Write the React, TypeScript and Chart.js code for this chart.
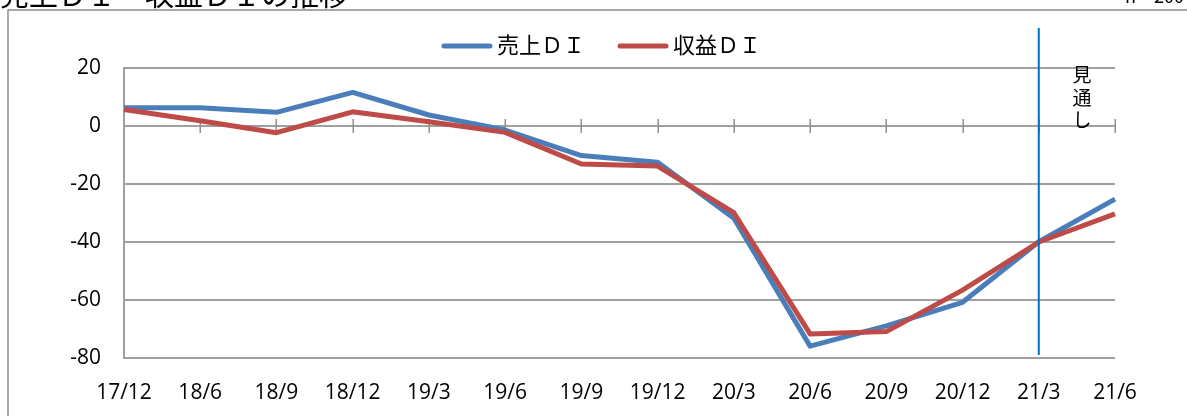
import React, { useEffect, useRef } from 'react';
import { Chart, registerables } from 'chart.js';

Chart.register(...registerables);

// ---- data ----
const categories = ['17/12', '18/6', '18/9', '18/12', '19/3', '19/6', '19/9', '19/12', '20/3', '20/6', '20/9', '20/12', '21/3', '21/6'];
const salesDI = [6.3, 6.3, 4.7, 11.6, 3.8, -1.4, -10.2, -12.5, -31.8, -75.9, -68.9, -60.8, -39.9, -25.2];
const profitDI = [5.7, 1.8, -2.3, 4.9, 1.5, -2.2, -13.1, -13.8, -29.9, -71.7, -70.9, -56.6, -40.0, -30.3];
const seriesNames = ['売上ＤＩ', '収益ＤＩ'];
const seriesColors = ['#4A7EBB', '#BE4B48'];
const yMin = -80;
const yMax = 20;
const yStep = 20;
const forecastIndex = 12; // 21/3
const forecastChars = ['見', '通', 'し'];
const titleText = '売上ＤＩ・収益ＤＩの推移';
const noteText = 'n＝200';

const tickFont = { family: '"Open Sans", "Noto Sans", sans-serif', size: 21 };
const cjk = '"Noto Sans CJK JP", "Noto Sans", sans-serif';
const gridColor = '#a0a0a0';

const decorPlugin = {
  id: 'decor',
  beforeDraw(chart: any) {
    const ctx = chart.ctx;
    ctx.save();
    ctx.fillStyle = '#ffffff';
    ctx.fillRect(0, 0, chart.width, chart.height);
    // outer frame
    ctx.strokeStyle = '#8c8c8c';
    ctx.lineWidth = 1.5;
    ctx.strokeRect(8, 10, chart.width + 100, chart.height + 100);
    // title (cut at the top)
    ctx.fillStyle = '#000';
    ctx.textAlign = 'left';
    ctx.textBaseline = 'alphabetic';
    ctx.font = `29px ${cjk}`;
    ctx.fillText(titleText, 0, 6);
    ctx.font = `18px ${cjk}`;
    ctx.fillText(noteText, 1125, 3);
    ctx.restore();
  },
  beforeDatasetsDraw(chart: any) {
    const ctx = chart.ctx;
    const xs = chart.scales.x;
    const ys = chart.scales.y;
    const y0 = ys.getPixelForValue(0);
    ctx.save();
    ctx.strokeStyle = '#909090';
    ctx.lineWidth = 1.5;
    ctx.beginPath();
    for (let i = 1; i < categories.length; i++) {
      const x = Math.round(xs.getPixelForTick(i)) + 0.25;
      ctx.moveTo(x, y0 - 7);
      ctx.lineTo(x, y0 + 7);
    }
    ctx.stroke();
    ctx.restore();
  },
  afterDatasetsDraw(chart: any) {
    const ctx = chart.ctx;
    const xs = chart.scales.x;
    const ys = chart.scales.y;
    const xf = xs.getPixelForValue(forecastIndex);
    const xn = xs.getPixelForValue(forecastIndex + 1);
    ctx.save();
    ctx.strokeStyle = '#0070C0';
    ctx.lineWidth = 2;
    ctx.beginPath();
    ctx.moveTo(xf, 28);
    ctx.lineTo(xf, ys.bottom - 3);
    ctx.stroke();
    // 見通し vertical text
    ctx.fillStyle = '#000';
    ctx.font = `19px ${cjk}`;
    ctx.textAlign = 'center';
    ctx.textBaseline = 'middle';
    const cx = (xf + xn) / 2 + 5;
    forecastChars.forEach((c, i) => {
      ctx.fillText(c, cx, 75 + i * 22.5);
    });
    ctx.restore();
  },
  afterDraw(chart: any) {
    // legend
    const ctx = chart.ctx;
    ctx.save();
    ctx.font = `22px ${cjk}`;
    ctx.textBaseline = 'middle';
    ctx.textAlign = 'left';
    const lineLen = 50;
    const gapText = 5;
    const gapItem = 33;
    const widths = seriesNames.map((n) => ctx.measureText(n).width);
    const total = widths.reduce((a, w) => a + lineLen + gapText + w, 0) + gapItem * (seriesNames.length - 1);
    let x = chart.width / 2 + 8 - total / 2;
    const y = 46;
    seriesNames.forEach((name, i) => {
      ctx.strokeStyle = seriesColors[i];
      ctx.lineWidth = 5;
      ctx.lineCap = 'round';
      ctx.beginPath();
      ctx.moveTo(x + 2, y);
      ctx.lineTo(x + lineLen - 2, y);
      ctx.stroke();
      ctx.fillStyle = '#000';
      ctx.fillText(name, x + lineLen + gapText, y - 1);
      x += lineLen + gapText + widths[i] + gapItem;
    });
    ctx.restore();
  },
};

export default function App() {
  const canvasRef = useRef<HTMLCanvasElement>(null);

  useEffect(() => {
    const canvas = canvasRef.current;
    if (!canvas) return;
    const chart = new Chart(canvas, {
      type: 'line',
      data: {
        labels: categories,
        datasets: [
          {
            label: seriesNames[0],
            data: salesDI,
            borderColor: seriesColors[0],
            backgroundColor: seriesColors[0],
            borderWidth: 5,
            pointRadius: 0,
            tension: 0,
            borderJoinStyle: 'round',
            order: 1,
          },
          {
            label: seriesNames[1],
            data: profitDI,
            borderColor: seriesColors[1],
            backgroundColor: seriesColors[1],
            borderWidth: 5,
            pointRadius: 0,
            tension: 0,
            borderJoinStyle: 'round',
            order: 0,
          },
        ],
      },
      options: {
        responsive: false,
        animation: false,
        events: [],
        layout: { padding: { top: 68, left: 0, right: 72, bottom: 0 } },
        plugins: {
          legend: { display: false },
          tooltip: { enabled: false },
          title: { display: false },
        },
        scales: {
          x: {
            type: 'category',
            offset: false,
            grid: { display: false },
            border: { display: false },
            ticks: { font: tickFont, color: '#000', padding: 14, maxRotation: 0, autoSkip: false },
            afterFit: (s: any) => {
              s.height = 58;
            },
          },
          y: {
            min: yMin,
            max: yMax,
            ticks: { stepSize: yStep, font: tickFont, color: '#000', padding: 23 },
            grid: { color: gridColor, lineWidth: 2, drawTicks: false },
            border: { display: true, color: gridColor, width: 2 },
            afterFit: (s: any) => {
              s.width = 124;
            },
          },
        },
      },
      plugins: [decorPlugin],
    });
    return () => chart.destroy();
  }, []);

  return (
    <div style={{ position: 'absolute', left: 0, top: 0, width: 1187, height: 416 }}>
      <canvas ref={canvasRef} width={1187} height={416} />
    </div>
  );
}
